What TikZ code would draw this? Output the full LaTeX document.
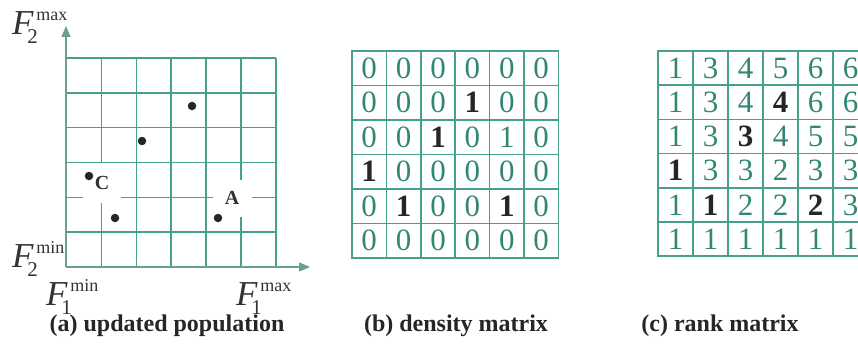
\documentclass[tikz,border=0pt]{standalone}
\usepackage{fontspec}
\setmainfont{Liberation Serif}
\usetikzlibrary{arrows.meta, positioning}
\definecolor{gridteal}{RGB}{70,160,140}
\definecolor{digitteal}{RGB}{50,135,115}
\definecolor{axisgray}{RGB}{105,160,150}
\newcommand{\B}[1]{{\color{black!85}\bfseries #1}}
% F with subscript #1 and superscript #2
\newcommand{\Flab}[2]{\textit{F}\kern-6.5pt\rlap{\raisebox{-9pt}{\fontsize{21}{21}\selectfont #1}}\kern9pt\raisebox{14pt}{\fontsize{18}{18}\selectfont #2}}

\begin{document}
\begin{tikzpicture}[x=1pt, y=-1pt,
    gridline/.style={gridteal, line width=1.6pt},
    axis/.style={axisgray, line width=1.3pt, -{Triangle[length=11pt, width=9pt]}},
    cell/.style={draw=gridteal, line width=1.6pt, minimum width=34.4pt, minimum height=34.5pt, inner sep=0pt, font=\fontsize{31}{31}\selectfont, text=digitteal},
    rcell/.style={cell, minimum width=35pt, minimum height=34.2pt},
    dot/.style={circle, fill=black!85, inner sep=0pt, minimum size=8.5pt},
    tag/.style={fill=white, inner sep=0pt, font=\fontsize{20}{20}\selectfont\bfseries, text=black!80},
    flab/.style={font=\fontsize{35}{38}\selectfont, text=black!80, inner sep=0pt, anchor=base west},
    caption/.style={font=\fontsize{24}{26}\selectfont\bfseries, text=black!85}
  ]
  \useasboundingbox (0,0) rectangle (858,350);

  % (a) objective space
  \foreach \i in {0,...,6} {
    \draw[gridline] (66.5+34.9*\i,58) -- (66.5+34.9*\i,267);
    \draw[gridline] (66.5,58+34.83*\i) -- (276,58+34.83*\i);
  }
  \node[tag, minimum width=38pt, minimum height=40pt] (C) at (102,183) {C};
  \node[tag, minimum width=39pt, minimum height=37pt] (A) at (232,198) {A};
  \node[dot] (p1) at (192,106) {};
  \node[dot] (p2) at (142,141) {};
  \node[dot] (p3) at (89,176) {};
  \node[dot] (p4) at (115,218) {};
  \node[dot] (p5) at (218,218) {};
  \coordinate (O) at (66,267);
  \coordinate (ytip) at (66,26);
  \coordinate (xtip) at (310,267);
  \draw[axis] (O) -- (ytip);
  \draw[axis] (O) -- (xtip);
  \node[flab] (f2max) at (12,35) {\Flab{2}{max}};
  \node[flab] (f2min) at (12,267) {\Flab{2}{min}};
  \node[flab] (f1min) at (46,305) {\Flab{1}{min}};
  \node[flab] (f1max) at (236,305) {\Flab{1}{max}};

  % (b) density matrix
  \foreach \row [count=\r] in {{0,0,0,0,0,0},{0,0,0,\B{1},0,0},{0,0,\B{1},0,1,0},
      {\B{1},0,0,0,0,0},{0,\B{1},0,0,\B{1},0},{0,0,0,0,0,0}} {
    \foreach \v [count=\c] in \row {
      \node[cell] (d-\r-\c) at (352+34.4*\c-17.2, 51+34.5*\r-17.25) {\v};
    }
  }

  % (c) rank matrix
  \foreach \row [count=\r] in {{1,3,4,5,6,6},{1,3,4,\B{4},6,6},{1,3,\B{3},4,5,5},
      {\B{1},3,3,2,3,3},{1,\B{1},2,2,\B{2},3},{1,1,1,1,1,1}} {
    \foreach \v [count=\c] in \row {
      \node[rcell] (r-\r-\c) at (658+35*\c-17.5, 51+34.2*\r-17.1) {\v};
    }
  }

  \node[caption] (capa) at (167,326) {(a) updated population};
  \node[caption] (capb) at (456,326) {(b) density matrix};
  \node[caption] (capc) at (720,326) {(c) rank matrix};
\end{tikzpicture}
\end{document}
